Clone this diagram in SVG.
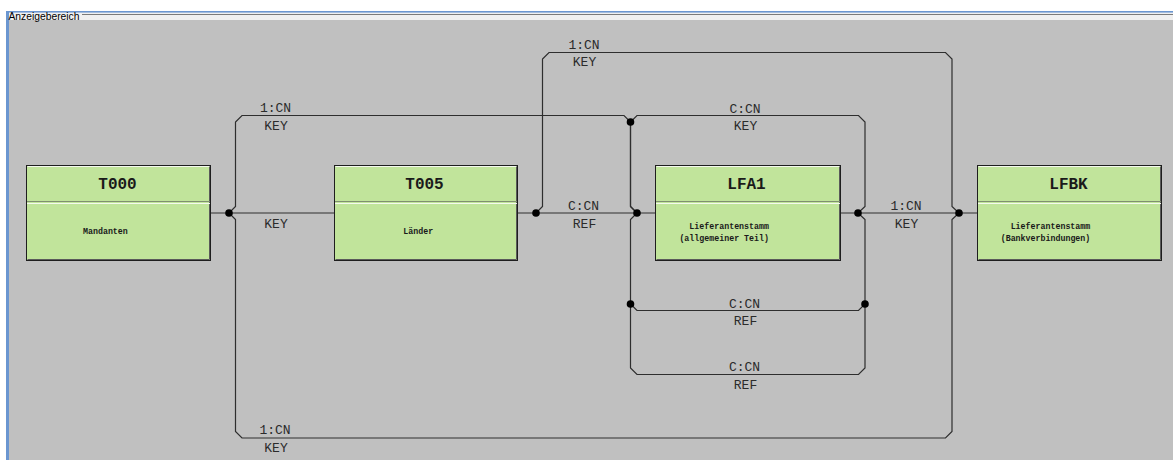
<svg xmlns="http://www.w3.org/2000/svg" width="1173" height="460" viewBox="0 0 1173 460">
<style>
.node rect.box{fill:#C1E49B;stroke:#1e1e1e;stroke-width:1}
.hl{stroke:#7f8f70;stroke-width:1}
.wl{stroke:#f4f9ee;stroke-width:1}
.sh{stroke:#5a5a5a;stroke-width:1;fill:none}
.title{font-family:"Liberation Mono",monospace;font-weight:bold;font-size:16px;fill:#1a1a1a;text-anchor:middle}
.sub{font-family:"Liberation Mono",monospace;font-weight:bold;font-size:8.3px;fill:#1a1a1a}
.lbl{font-family:"Liberation Mono",monospace;font-size:13px;fill:#2b2b2b;text-anchor:middle}
#connectors path{fill:none;stroke:#2e2e2e;stroke-width:1.2}
#connectors circle{fill:#000}
</style>
<rect x="0" y="0" width="1173" height="460" fill="#ffffff"/>
<rect x="9" y="12.5" width="1164" height="8" fill="#f0f0f0"/>
<rect x="9" y="20" width="1164" height="440" fill="#c0c0c0"/>
<rect x="6" y="11" width="1167" height="1.6" fill="#6b96d0"/>
<rect x="6" y="11" width="3" height="449" fill="#6b96d0"/>
<line x1="82" y1="14.5" x2="1173" y2="14.5" stroke="#7a7a7a" stroke-width="1"/>
<text x="8.5" y="19.5" font-family="Liberation Sans, Arial, sans-serif" font-size="10.3" fill="#000">Anzeigebereich</text>

<g id="connectors">
<path d="M211,213 H335"/>
<path d="M517,213 H656"/>
<path d="M840,213 H977"/>
<path d="M229,213 L235.5,206.5 V122 L242,115.5 H624 L630.5,122 V206.5 L637,213"/>
<path d="M637,213 L630.5,206.5 V122 L637,115.5 H858.5 L865,122 V206.5 L858,213"/>
<path d="M637,213 L630.5,219.5 V304 L637,310.5 H858.5 L865,304 V219.5 L858,213"/>
<path d="M630.5,304 V368 L637,374.5 H858.5 L865,368 V304"/>
<path d="M536,213 L542.5,206.5 V59 L549,52.5 H945.5 L952,59 V206.5 L959,213"/>
<path d="M229,213 L235.5,219.5 V431.5 L242,438 H945.5 L952,431.5 V219.5 L959,213"/>
<circle cx="229" cy="213" r="3.8"/>
<circle cx="536" cy="213" r="3.8"/>
<circle cx="637" cy="213" r="3.8"/>
<circle cx="858" cy="213" r="3.8"/>
<circle cx="959" cy="213" r="3.8"/>
<circle cx="630.5" cy="122" r="3.8"/>
<circle cx="630.5" cy="304" r="3.8"/>
<circle cx="865" cy="304" r="3.8"/>
<text class="lbl" x="276" y="227.5">KEY</text>
<text class="lbl" x="275.5" y="112">1:CN</text>
<text class="lbl" x="276" y="129.5">KEY</text>
<text class="lbl" x="584" y="48.5">1:CN</text>
<text class="lbl" x="584.5" y="66">KEY</text>
<text class="lbl" x="745" y="112.5">C:CN</text>
<text class="lbl" x="745.5" y="129.5">KEY</text>
<text class="lbl" x="583.5" y="210">C:CN</text>
<text class="lbl" x="584.5" y="227.5">REF</text>
<text class="lbl" x="906" y="210">1:CN</text>
<text class="lbl" x="906.5" y="227.5">KEY</text>
<text class="lbl" x="744.5" y="307.5">C:CN</text>
<text class="lbl" x="745.5" y="325">REF</text>
<text class="lbl" x="744.5" y="371">C:CN</text>
<text class="lbl" x="745.5" y="389">REF</text>
<text class="lbl" x="275" y="434.3">1:CN</text>
<text class="lbl" x="276" y="452.3">KEY</text>
</g>

<g id="node-T000" class="node">
<rect class="box" x="26.5" y="165.5" width="184" height="95"/>
<line class="wl" x1="27.5" y1="166.5" x2="209.5" y2="166.5"/>
<polyline class="sh" points="209.5,166.5 209.5,259.5 27.5,259.5"/>
<line class="hl" x1="27" y1="201.5" x2="210" y2="201.5"/>
<line class="wl" x1="27" y1="203.5" x2="210" y2="203.5"/>
<text class="title" x="117.5" y="189">T000</text>
<text class="sub" x="83" y="234">Mandanten</text>
</g>

<g id="node-T005" class="node">
<rect class="box" x="334.5" y="165.5" width="183" height="95"/>
<line class="wl" x1="335.5" y1="166.5" x2="516.5" y2="166.5"/>
<polyline class="sh" points="516.5,166.5 516.5,259.5 335.5,259.5"/>
<line class="hl" x1="335" y1="201.5" x2="517" y2="201.5"/>
<line class="wl" x1="335" y1="203.5" x2="517" y2="203.5"/>
<text class="title" x="424.5" y="189">T005</text>
<text class="sub" x="403.3" y="234">Länder</text>
</g>

<g id="node-LFA1" class="node">
<rect class="box" x="655.5" y="165.5" width="185" height="95"/>
<line class="wl" x1="656.5" y1="166.5" x2="839.5" y2="166.5"/>
<polyline class="sh" points="839.5,166.5 839.5,259.5 656.5,259.5"/>
<line class="hl" x1="656" y1="201.5" x2="840" y2="201.5"/>
<line class="wl" x1="656" y1="203.5" x2="840" y2="203.5"/>
<text class="title" x="746.5" y="189">LFA1</text>
<text class="sub" x="769" y="228.5" text-anchor="end">Lieferantenstamm</text>
<text class="sub" x="769" y="240.5" text-anchor="end">(allgemeiner Teil)</text>
</g>

<g id="node-LFBK" class="node">
<rect class="box" x="977.5" y="165.5" width="184" height="95"/>
<line class="wl" x1="978.5" y1="166.5" x2="1160.5" y2="166.5"/>
<polyline class="sh" points="1160.5,166.5 1160.5,259.5 978.5,259.5"/>
<line class="hl" x1="978" y1="201.5" x2="1161" y2="201.5"/>
<line class="wl" x1="978" y1="203.5" x2="1161" y2="203.5"/>
<text class="title" x="1068.5" y="189">LFBK</text>
<text class="sub" x="1090.3" y="228.5" text-anchor="end">Lieferantenstamm</text>
<text class="sub" x="1090.3" y="240.5" text-anchor="end">(Bankverbindungen)</text>
</g>
</svg>
